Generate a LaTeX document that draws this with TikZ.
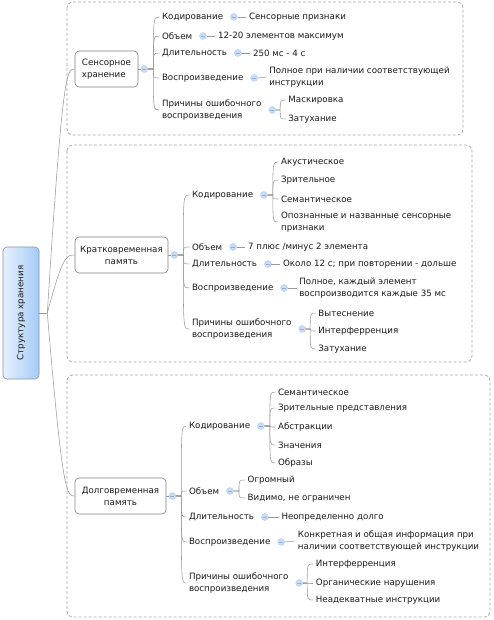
\documentclass[tikz,border=0pt]{standalone}
\usepackage{fontspec}
\setmainfont{DejaVu Sans}
\definecolor{cfill}{HTML}{C9DCF6}
\definecolor{cdraw}{HTML}{AFC7EC}
\definecolor{cminus}{HTML}{8FAFE0}
\definecolor{rootl}{HTML}{E6F1FE}
\definecolor{rootd}{HTML}{A6CBF5}
\definecolor{rootb}{HTML}{8094B0}
\definecolor{lgray}{HTML}{9A9A9A}
\definecolor{dgray}{HTML}{ABABAB}
\definecolor{bgray}{HTML}{7F7F7F}
\definecolor{txt}{HTML}{1A1A1A}
\newcommand\myfan[3]{%
  \coordinate (#1b) at ([xshift=#2]#1.center);
  \foreach \c in {#3} {\draw[conn] (#1.east) -- (#1b) .. controls (#1b |- \c.west) .. (\c.west);}
}
\begin{document}
\begin{tikzpicture}[x=1pt,y=-1pt,
  every node/.style={font=\fontsize{8.7}{12}\selectfont, text=txt},
  t/.style={anchor=west,inner xsep=2.5pt,inner ysep=0pt,align=left},
  tb/.style={draw=bgray,rounded corners=4pt,minimum height=36pt,align=center,line width=0.6pt,inner sep=2pt},
  region/.style={draw=dgray,dash pattern=on 3pt off 2pt,rounded corners=6pt,line width=0.8pt},
  conn/.style={draw=lgray,line width=0.55pt},
  circ/.style={circle,fill=cfill,draw=cdraw,line width=0.3pt,minimum size=7pt,inner sep=0pt,
    path picture={\draw[cminus,line width=0.7pt] ([xshift=-2pt]path picture bounding box.center) -- ([xshift=2pt]path picture bounding box.center);}}
]
\useasboundingbox (0,0) rectangle (494,620);

% regions
\draw[region] (67,2) rectangle (463,135);
\draw[region] (67,145) rectangle (472,362);
\draw[region] (67,375) rectangle (490,617);

% root
\node[rotate=90, minimum width=132pt, minimum height=36pt, rounded corners=4pt, draw=rootb, line width=0.6pt,
  left color=rootl, right color=rootd, inner sep=0pt] (root) at (21,313) {Структура хранения};

% main boxes
\node[tb, minimum width=63pt, align=left] (s0) at (106.5,69) {Сенсорное\\хранение};
\node[tb, minimum width=93pt] (k0) at (121.5,255) {Кратковременная\\память};
\node[tb, minimum width=91pt] (d0) at (120.5,496) {Долговременная\\память};

\draw[conn] (root.south) -- ++(8,0) coordinate (rj);
\foreach \b in {s0,k0,d0} {
  \draw[conn] (rj) .. controls ([xshift=-12pt]\b.west) and ([xshift=-8pt]\b.west) .. (\b.west);
}

% ================= Sensory =================
\node[circ] (sc) at ([xshift=6pt]s0.east) {};
\draw[conn] (s0.east) -- (sc.west);
\coordinate (scx) at ([xshift=15pt]sc.center);
\node[t] (s1) at (scx |- 0,17) {Кодирование};
\node[t] (s2) at (scx |- 0,36) {Объем};
\node[t] (s3) at (scx |- 0,53) {Длительность};
\node[t] (s4) at (scx |- 0,78) {Воспроизведение};
\node[t] (s5) at (scx |- 0,110) {Причины ошибочного\\воспроизведения};
\myfan{sc}{9pt}{s1,s2,s3,s4,s5}

\node[circ] (s1c) at ([xshift=8pt]s1.east) {};
\node[t] (s1a) at ([xshift=12.5pt]s1c.center) {Сенсорные признаки};
\draw[conn] (s1c.east) -- (s1a.west);
\node[circ] (s2c) at ([xshift=8pt]s2.east) {};
\node[t] (s2a) at ([xshift=12.5pt]s2c.center) {12-20 элементов максимум};
\draw[conn] (s2c.east) -- (s2a.west);
\node[circ] (s3c) at ([xshift=8pt]s3.east) {};
\node[t] (s3a) at ([xshift=12.5pt]s3c.center) {250 мс - 4 с};
\draw[conn] (s3c.east) -- (s3a.west);
\node[circ] (s4c) at ([xshift=8pt]s4.east) {};
\node[t] (s4a) at ([xshift=12.5pt]s4c.center |- 0,77) {Полное при наличии соответствующей\\инструкции};
\draw[conn] (s4c.east) -- (s4a.west);
\node[circ] (s5c) at ([xshift=8pt]s5.east) {};
\coordinate (s5x) at ([xshift=13.5pt]s5c.center);
\node[t] (s5a) at (s5x |- 0,100) {Маскировка};
\node[t] (s5b) at (s5x |- 0,119) {Затухание};
\myfan{s5c}{8pt}{s5a,s5b}

% ================= Short-term =================
\node[circ] (kc) at ([xshift=6pt]k0.east) {};
\draw[conn] (k0.east) -- (kc.west);
\coordinate (kcx) at ([xshift=15pt]kc.center);
\node[t] (k1) at (kcx |- 0,195) {Кодирование};
\node[t] (k2) at (kcx |- 0,247) {Объем};
\node[t] (k3) at (kcx |- 0,264) {Длительность};
\node[t] (k4) at (kcx |- 0,288) {Воспроизведение};
\node[t] (k5) at (kcx |- 0,329) {Причины ошибочного\\воспроизведения};
\myfan{kc}{9pt}{k1,k2,k3,k4,k5}

\node[circ] (k1c) at ([xshift=8pt]k1.east) {};
\coordinate (k1x) at ([xshift=14.5pt]k1c.center);
\node[t] (k1a) at (k1x |- 0,162) {Акустическое};
\node[t] (k1b) at (k1x |- 0,180) {Зрительное};
\node[t] (k1d) at (k1x |- 0,199) {Семантическое};
\node[t] (k1e) at (k1x |- 0,222) {Опознанные и названные сенсорные\\признаки};
\myfan{k1c}{9pt}{k1a,k1b,k1d,k1e}

\node[circ] (k2c) at ([xshift=8pt]k2.east) {};
\node[t] (k2a) at ([xshift=12.5pt]k2c.center) {7 плюс /минус 2 элемента};
\draw[conn] (k2c.east) -- (k2a.west);
\node[circ] (k3c) at ([xshift=8pt]k3.east) {};
\node[t] (k3a) at ([xshift=12.5pt]k3c.center) {Около 12 с; при повторении - дольше};
\draw[conn] (k3c.east) -- (k3a.west);
\node[circ] (k4c) at ([xshift=8pt]k4.east) {};
\node[t] (k4a) at ([xshift=12.5pt]k4c.center) {Полное, каждый элемент\\воспроизводится каждые 35 мс};
\draw[conn] (k4c.east) -- (k4a.west);
\node[circ] (k5c) at ([xshift=8pt]k5.east) {};
\coordinate (k5x) at ([xshift=13.5pt]k5c.center);
\node[t] (k5a) at (k5x |- 0,313) {Вытеснение};
\node[t] (k5b) at (k5x |- 0,331) {Интерферренция};
\node[t] (k5d) at (k5x |- 0,349) {Затухание};
\myfan{k5c}{8pt}{k5a,k5b,k5d}

% ================= Long-term =================
\node[circ] (dc) at ([xshift=6pt]d0.east) {};
\draw[conn] (d0.east) -- (dc.west);
\coordinate (dcx) at ([xshift=14pt]dc.center);
\node[t] (d1) at (dcx |- 0,426) {Кодирование};
\node[t] (d2) at (dcx |- 0,491) {Объем};
\node[t] (d3) at (dcx |- 0,517) {Длительность};
\node[t] (d4) at (dcx |- 0,542) {Воспроизведение};
\node[t] (d5) at (dcx |- 0,583) {Причины ошибочного\\воспроизведения};
\myfan{dc}{9pt}{d1,d2,d3,d4,d5}

\node[circ] (d1c) at ([xshift=8pt]d1.east) {};
\coordinate (d1x) at ([xshift=14.5pt]d1c.center);
\node[t] (d1a) at (d1x |- 0,392) {Семантическое};
\node[t] (d1b) at (d1x |- 0,408) {Зрительные представления};
\node[t] (d1d) at (d1x |- 0,427) {Абстракции};
\node[t] (d1e) at (d1x |- 0,445) {Значения};
\node[t] (d1f) at (d1x |- 0,463) {Образы};
\myfan{d1c}{9pt}{d1a,d1b,d1d,d1e,d1f}

\node[circ] (d2c) at ([xshift=8pt]d2.east) {};
\coordinate (d2x) at ([xshift=15pt]d2c.center);
\node[t] (d2a) at (d2x |- 0,480) {Огромный};
\node[t] (d2b) at (d2x |- 0,498) {Видимо, не ограничен};
\myfan{d2c}{9pt}{d2a,d2b}

\node[circ] (d3c) at ([xshift=8pt]d3.east) {};
\node[t] (d3a) at ([xshift=14pt]d3c.center) {Неопределенно долго};
\draw[conn] (d3c.east) -- (d3a.west);
\node[circ] (d4c) at ([xshift=8pt]d4.east) {};
\node[t] (d4a) at ([xshift=14pt]d4c.center |- 0,541) {Конкретная и общая информация при\\наличии соответствующей инструкции};
\draw[conn] (d4c.east) -- (d4a.west);
\node[circ] (d5c) at ([xshift=8pt]d5.east) {};
\coordinate (d5x) at ([xshift=14pt]d5c.center);
\node[t] (d5a) at (d5x |- 0,564) {Интерферренция};
\node[t] (d5b) at (d5x |- 0,583) {Органические нарушения};
\node[t] (d5d) at (d5x |- 0,600) {Неадекватные инструкции};
\myfan{d5c}{8pt}{d5a,d5b,d5d}
\end{tikzpicture}
\end{document}
